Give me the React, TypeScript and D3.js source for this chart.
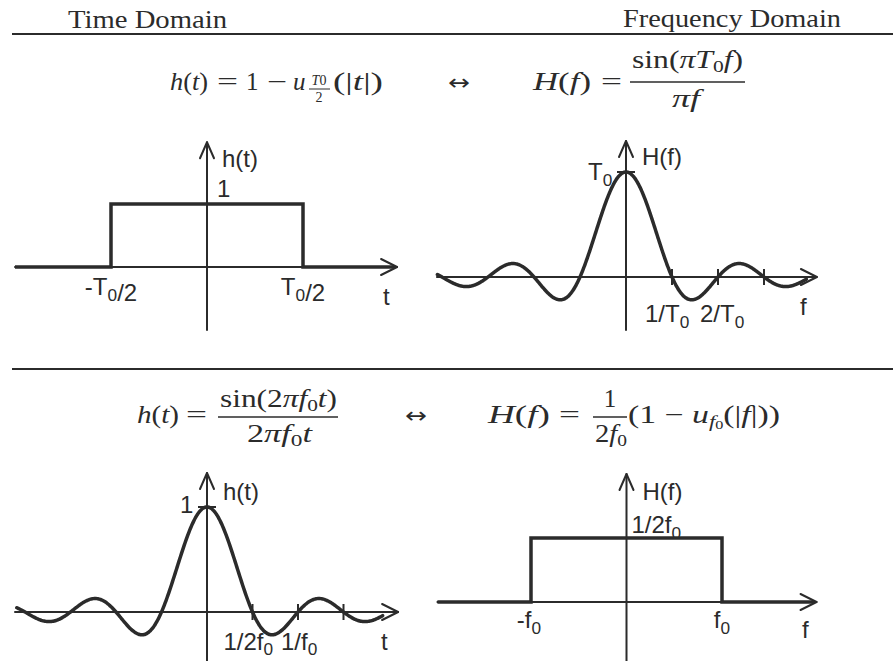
import React from "react";
import * as d3 from "d3";

const INK = "#2b2b2b";
const SANS = "'Liberation Sans', Arial, Helvetica, sans-serif";
const SERIF = "'Liberation Serif', 'Times New Roman', serif";

// Rectangular pulses (time axis in units of T0, frequency axis in units of f0)
const pulseEdgesTime = [-0.5, 0.5]; // ±T0/2
const pulseHeightTime = 1;
const pulseEdgesFreq = [-1, 1]; // ±f0
const pulseHeightFreq = 0.5; // 1/(2 f0)

// Sinc curves: sample range and marked zero crossings
const sincFreqRange = [-4.1, 3.92]; // f·T0
const sincFreqTicks = [1, 2, 3]; // 1/T0, 2/T0, 3/T0
const sincTimeRange = [-2.09, 1.93]; // t·f0
const sincTimeTicks = [0.5, 1, 1.5]; // 1/2f0, 1/f0, 3/2f0

// Axis extents per panel: [xFrom, xTo] and [yFrom, yTo] in data units
const axesTL = { x: [-1, 0.99], y: [-1, 1.98] };
const axesTR = { x: [-4.11, 4.15], y: [-0.505, 1.295] };
const axesBL = { x: [-2.11, 2.1], y: [-0.5, 1.324] };
const axesBR = { x: [-1.98, 1.99], y: [-0.46, 1.0] };

const sincF = (f: number) => (f === 0 ? 1 : Math.sin(Math.PI * f) / (Math.PI * f));
const sincT = (t: number) =>
  t === 0 ? 1 : Math.sin(2 * Math.PI * t) / (2 * Math.PI * t);

type Lin = d3.ScaleLinear<number, number>;

function Axes({ x, y, ax }: { x: Lin; y: Lin; ax: { x: number[]; y: number[] } }) {
  const x0 = x(0);
  const y0 = y(0);
  const xe = x(ax.x[1]);
  const yt = y(ax.y[1]);
  return (
    <g stroke={INK} fill="none" strokeWidth={2} strokeLinecap="round" strokeLinejoin="round">
      <line x1={x(ax.x[0])} y1={y0} x2={xe} y2={y0} />
      <line x1={x0} y1={y(ax.y[0])} x2={x0} y2={yt} />
      <polyline points={`${xe - 16},${y0 - 8} ${xe},${y0} ${xe - 16},${y0 + 8}`} />
      <polyline points={`${x0 - 7},${yt + 16} ${x0},${yt} ${x0 + 7},${yt + 16}`} />
    </g>
  );
}

function Sub({ base, sub, x, y, anchor = "start", size = 24, drop = 6 }: any) {
  return (
    <text x={x} y={y} fontFamily={SANS} fontSize={size} fill={INK} textAnchor={anchor}>
      {base.map((b: string, i: number) => (
        <React.Fragment key={i}>
          <tspan>{b}</tspan>
          {sub[i] ? (
            <tspan fontSize={size * 0.72} dy={drop}>
              {sub[i]}
            </tspan>
          ) : null}
          {sub[i] ? <tspan dy={-drop}></tspan> : null}
        </React.Fragment>
      ))}
    </text>
  );
}

function PulsePanel({
  x,
  y,
  ax,
  edges,
  height,
}: {
  x: Lin;
  y: Lin;
  ax: { x: number[]; y: number[] };
  edges: number[];
  height: number;
}) {
  const pts: [number, number][] = [
    [ax.x[0], 0],
    [edges[0], 0],
    [edges[0], height],
    [edges[1], height],
    [edges[1], 0],
    [ax.x[1] - 0.02, 0],
  ];
  const line = d3
    .line<[number, number]>()
    .x((d) => x(d[0]))
    .y((d) => y(d[1]));
  return (
    <g>
      <Axes x={x} y={y} ax={ax} />
      <path d={line(pts) || ""} fill="none" stroke={INK} strokeWidth={3.5} strokeLinejoin="miter" />
    </g>
  );
}

function SincPanel({
  x,
  y,
  ax,
  fn,
  range,
  ticks,
}: {
  x: Lin;
  y: Lin;
  ax: { x: number[]; y: number[] };
  fn: (v: number) => number;
  range: number[];
  ticks: number[];
}) {
  const samples = d3.range(range[0], range[1] + 1e-9, 0.01).map((v) => [v, fn(v)] as [number, number]);
  const line = d3
    .line<[number, number]>()
    .x((d) => x(d[0]))
    .y((d) => y(d[1]))
    .curve(d3.curveMonotoneX);
  return (
    <g>
      <Axes x={x} y={y} ax={ax} />
      <path d={line(samples) || ""} fill="none" stroke={INK} strokeWidth={3.5} strokeLinecap="round" />
      <g stroke={INK} strokeWidth={2}>
        {ticks.map((t) => (
          <line key={t} x1={x(t)} x2={x(t)} y1={y(0) - 8} y2={y(0) + 8} />
        ))}
        <line x1={x(0) - 9} x2={x(0) + 9} y1={y(1)} y2={y(1)} />
      </g>
    </g>
  );
}

const mathStyle = { fontFamily: SERIF, fontSize: 25, fill: INK } as const;
const I = ({ children }: any) => <tspan fontStyle="italic">{children}</tspan>;
const fit = (w: number) => ({ textLength: w, lengthAdjust: "spacingAndGlyphs" as const });

export default function App() {
  // Panel scales
  const xTL = d3.scaleLinear().domain([-1, 1]).range([15, 399]);
  const yTL = d3.scaleLinear().domain([0, 1]).range([267, 204]);
  const xTR = d3.scaleLinear().domain([0, 1]).range([626, 672]);
  const yTR = d3.scaleLinear().domain([0, 1]).range([277, 172]);
  const xBL = d3.scaleLinear().domain([0, 1]).range([207, 298]);
  const yBL = d3.scaleLinear().domain([0, 1]).range([612, 507]);
  const xBR = d3.scaleLinear().domain([-1, 1]).range([531, 722]);
  const yBR = d3.scaleLinear().domain([0, 0.5]).range([602, 538]);

  return (
    <svg
      width={893}
      height={661}
      viewBox="0 0 893 661"
      style={{ position: "absolute", left: 0, top: 0, background: "#fff" }}
    >
      <rect width={893} height={661} fill="#fff" />

      {/* Column headers and separators */}
      <text x={68} y={28} fontFamily={SERIF} fontSize={26} fill={INK} {...fit(159)}>
        Time Domain
      </text>
      <text x={623} y={27} fontFamily={SERIF} fontSize={26} fill={INK} {...fit(218)}>
        Frequency Domain
      </text>
      <line x1={12} x2={893} y1={34} y2={34} stroke={INK} strokeWidth={2} />
      <line x1={12} x2={893} y1={369} y2={369} stroke={INK} strokeWidth={2} />

      {/* Pair 1: rectangular pulse ↔ sinc */}
      <g {...mathStyle}>
        <text x={170} y={90} {...fit(38)}>
          <I>h</I>(<I>t</I>)
        </text>
        <text x={217} y={90} {...fit(21)}>=</text>
        <text x={246} y={90}>1</text>
        <text x={267} y={90} {...fit(20)}>−</text>
        <text x={293} y={90}>
          <I>u</I>
        </text>
        <text x={319} y={85} fontSize={14} textAnchor="middle">
          <I>T</I>0
        </text>
        <line x1={309} x2={330} y1={89} y2={89} stroke={INK} strokeWidth={1} />
        <text x={319} y={102} fontSize={14} textAnchor="middle">
          2
        </text>
        <text x={333} y={90} {...fit(50)}>
          (|<I>t</I>|)
        </text>

        <text x={448} y={90} fontFamily="'DejaVu Sans'" fontSize={22} {...fit(22)}>
          ↔
        </text>

        <text x={533} y={90} {...fit(58)}>
          <I>H</I>(<I>f</I>)
        </text>
        <text x={601} y={90} {...fit(21)}>=</text>
        <text x={632} y={68} {...fit(111)}>
          sin(<I>πT</I>
          <tspan fontSize={17} dy={4}>0</tspan>
          <tspan dy={-4}>
            <I>f</I>)
          </tspan>
        </text>
        <line x1={630} x2={745} y1={82} y2={82} stroke={INK} strokeWidth={1.3} />
        <text x={672} y={107} {...fit(28)}>
          <I>πf</I>
        </text>
      </g>

      <PulsePanel x={xTL} y={yTL} ax={axesTL} edges={pulseEdgesTime} height={pulseHeightTime} />
      <text x={xTL(0) + 15} y={167} fontFamily={SANS} fontSize={24} fill={INK}>
        h(t)
      </text>
      <text x={xTL(0) + 10} y={197} fontFamily={SANS} fontSize={24} fill={INK}>
        1
      </text>
      <Sub base={["-T", "/2"]} sub={["0", ""]} x={xTL(pulseEdgesTime[0])} y={295} anchor="middle" />
      <Sub base={["T", "/2"]} sub={["0", ""]} x={xTL(pulseEdgesTime[1])} y={295} anchor="middle" />
      <text x={383} y={305} fontFamily={SANS} fontSize={24} fill={INK}>
        t
      </text>

      <SincPanel x={xTR} y={yTR} ax={axesTR} fn={sincF} range={sincFreqRange} ticks={sincFreqTicks} />
      <text x={xTR(0) + 16} y={165} fontFamily={SANS} fontSize={24} fill={INK}>
        H(f)
      </text>
      <Sub base={["T"]} sub={["0"]} x={588} y={180} />
      <Sub base={["1/T"]} sub={["0"]} x={xTR(sincFreqTicks[0]) - 27} y={322} />
      <Sub base={["2/T"]} sub={["0"]} x={xTR(sincFreqTicks[1]) - 18} y={322} />
      <text x={800} y={315} fontFamily={SANS} fontSize={24} fill={INK}>
        f
      </text>

      {/* Pair 2: sinc ↔ rectangular spectrum */}
      <g {...mathStyle}>
        <text x={137} y={423} {...fit(42)}>
          <I>h</I>(<I>t</I>)
        </text>
        <text x={186} y={423} {...fit(21)}>=</text>
        <text x={220} y={407} {...fit(117)}>
          sin(2<I>πf</I>
          <tspan fontSize={17} dy={4}>0</tspan>
          <tspan dy={-4}>
            <I>t</I>)
          </tspan>
        </text>
        <line x1={218} x2={338} y1={417} y2={417} stroke={INK} strokeWidth={1.3} />
        <text x={247} y={442} {...fit(65)}>
          2<I>πf</I>
          <tspan fontSize={17} dy={4}>0</tspan>
          <tspan dy={-4}>
            <I>t</I>
          </tspan>
        </text>

        <text x={405} y={423} fontFamily="'DejaVu Sans'" fontSize={22} {...fit(22)}>
          ↔
        </text>

        <text x={488} y={423} {...fit(62)}>
          <I>H</I>(<I>f</I>)
        </text>
        <text x={559} y={423} {...fit(21)}>=</text>
        <text x={610} y={407} textAnchor="middle">
          1
        </text>
        <line x1={593} x2={627} y1={417} y2={417} stroke={INK} strokeWidth={1.3} />
        <text x={595} y={442} {...fit(32)}>
          2<I>f</I>
          <tspan fontSize={17} dy={4}>0</tspan>
        </text>
        <text x={628} y={423} {...fit(152)}>
          (1 − <I>u</I>
          <tspan fontSize={17} dy={4}>
            <I>f</I>
          </tspan>
          <tspan fontSize={12} dy={2}>0</tspan>
          <tspan dy={-6}>
            (|<I>f</I>|))
          </tspan>
        </text>
      </g>

      <SincPanel x={xBL} y={yBL} ax={axesBL} fn={sincT} range={sincTimeRange} ticks={sincTimeTicks} />
      <text x={xBL(0) + 16} y={500} fontFamily={SANS} fontSize={24} fill={INK}>
        h(t)
      </text>
      <text x={180} y={513} fontFamily={SANS} fontSize={24} fill={INK}>
        1
      </text>
      <Sub base={["1/2f"]} sub={["0"]} x={xBL(sincTimeTicks[0]) - 29} y={650} drop={5} />
      <Sub base={["1/f"]} sub={["0"]} x={xBL(sincTimeTicks[1]) - 17} y={650} drop={5} />
      <text x={381} y={650} fontFamily={SANS} fontSize={24} fill={INK}>
        t
      </text>

      <PulsePanel x={xBR} y={yBR} ax={axesBR} edges={pulseEdgesFreq} height={pulseHeightFreq} />
      <text x={xBR(0) + 16} y={500} fontFamily={SANS} fontSize={24} fill={INK}>
        H(f)
      </text>
      <Sub base={["1/2f"]} sub={["0"]} x={xBR(0) + 5} y={533} />
      <Sub base={["-f"]} sub={["0"]} x={xBR(pulseEdgesFreq[0]) - 2} y={628} anchor="middle" />
      <Sub base={["f"]} sub={["0"]} x={xBR(pulseEdgesFreq[1])} y={628} anchor="middle" />
      <text x={802} y={638} fontFamily={SANS} fontSize={24} fill={INK}>
        f
      </text>
    </svg>
  );
}
